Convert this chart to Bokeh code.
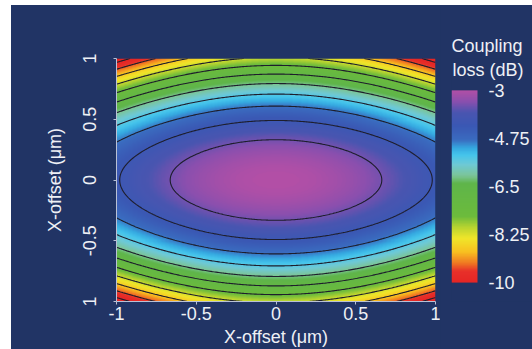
import numpy as np
from bokeh.plotting import figure
from bokeh.models import LinearColorMapper, FixedTicker, Range1d, Spacer, Title
from bokeh.core.properties import value
from bokeh.layouts import row, column
from bokeh.embed import file_html
from bokeh.resources import INLINE

NAVY = "#213465"
TEXT = "#eef0f5"
AXIS = "#b9c1d6"
FONT = "Liberation Sans"

# ---- data ----
x_ticks = [-1.0, -0.5, 0.0, 0.5, 1.0]
x_tick_labels = ["-1", "-0.5", "0", "0.5", "1"]
y_ticks = [-1.0, -0.5, 0.0, 0.5, 1.0]
y_tick_labels = ["1", "-0.5", "0", "0.5", "1"]
cbar_ticks = [-3.0, -4.75, -6.5, -8.25, -10.0]
cbar_tick_labels = ["-3", "-4.75", "-6.5", "-8.25", "-10"]
cbar_title = ["Coupling", "loss (dB)"]

# coupling loss (dB) read at centre, x edges (y=0), y edges (x=0) and corners
loss_center = -3.0
loss_x_edge = -4.25
loss_y_edge = -8.0
loss_corner = -10.45

contour_levels = [-10.05, -9.4, -8.75, -8.1, -7.45, -6.8, -6.15, -5.5, -4.85, -4.2, -3.55]

# colour scale anchors (dB -> colour)
cmap_values = [-10.0, -9.6, -9.3, -8.9, -8.4, -8.0, -7.6, -6.4, -6.1, -5.7, -5.35, -5.1, -4.8, -4.3, -3.8, -3.4, -3.0]
cmap_colors = ["#e52625", "#e8302a", "#f07a22", "#f8c020", "#f0e62a", "#b8d430", "#6cbb3c", "#5fb54a",
               "#7cc59a", "#6ec9d6", "#45c5ec", "#35a8e0", "#3a6cc0", "#3a58b4", "#4a55b0", "#8a4fae", "#b24fa6"]


def hex_to_rgb(h):
    h = h.lstrip("#")
    return [int(h[i:i + 2], 16) for i in (0, 2, 4)]


rgb = np.array([hex_to_rgb(c) for c in cmap_colors], dtype=float)
grid_vals = np.linspace(min(cmap_values), max(cmap_values), 256)
palette = []
for v in grid_vals:
    r = np.interp(v, cmap_values, rgb[:, 0])
    g = np.interp(v, cmap_values, rgb[:, 1])
    b = np.interp(v, cmap_values, rgb[:, 2])
    palette.append("#%02x%02x%02x" % (int(round(r)), int(round(g)), int(round(b))))

mapper = LinearColorMapper(palette=palette, low=-10, high=-3)

xs = np.linspace(-1, 1, 241)
ys = np.linspace(-1, 1, 241)
X, Y = np.meshgrid(xs, ys)
U, V = X ** 2, Y ** 2
Z = (loss_center + (loss_x_edge - loss_center) * U + (loss_y_edge - loss_center) * V
     + (loss_corner - loss_x_edge - loss_y_edge + loss_center) * U * V)

# ---------------- main heat map ----------------
BT, BB = 53, 47
p = figure(width=429, height=344, x_range=Range1d(-1, 1), y_range=Range1d(-1, 1),
           output_backend="svg", toolbar_location=None,
           background_fill_color=NAVY, border_fill_color=NAVY,
           min_border_left=105, min_border_top=BT, min_border_bottom=BB, min_border_right=5)
p.outline_line_color = None
p.grid.visible = False

p.image(image=[Z], x=-1, y=-1, dw=2, dh=2, color_mapper=mapper)
p.contour(xs, ys, Z, levels=sorted(contour_levels), line_color="#1e1e2c", line_width=1.1)

p.xaxis.ticker = FixedTicker(ticks=x_ticks)
p.yaxis.ticker = FixedTicker(ticks=y_ticks)
p.xaxis.major_label_overrides = dict(zip(x_ticks, x_tick_labels))
p.yaxis.major_label_overrides = dict(zip(y_ticks, y_tick_labels))
p.xaxis.axis_label = "X-offset (μm)"
p.yaxis.axis_label = "X-offset (μm)"
for ax in (p.xaxis[0], p.yaxis[0]):
    ax.axis_line_color = AXIS
    ax.major_tick_line_color = AXIS
    ax.major_tick_out = 3
    ax.major_tick_in = 0
    ax.minor_tick_line_color = None
    ax.major_label_text_font = FONT
    ax.major_label_text_font_size = "18px"
    ax.major_label_text_color = TEXT
    ax.axis_label_text_font = FONT
    ax.axis_label_text_font_size = "18px"
    ax.axis_label_text_font_style = "normal"
    ax.axis_label_text_color = TEXT
p.xaxis.major_label_standoff = 2
p.xaxis.axis_label_standoff = 4
p.yaxis.major_label_orientation = "vertical"
p.yaxis.major_label_standoff = 18
p.yaxis.axis_label_standoff = 15

# ---------------- colour bar (same vertical frame as the map) ----------------
FRAME_H = 344 - BT - BB                 # 244 px
BAR_TOP, BAR_BOT = 32, 19               # px between frame edge and bar
k = 7.0 / (FRAME_H - BAR_TOP - BAR_BOT)  # dB per pixel
BAR_W, FRAME_W = 26, 81
SUBTITLE_GAP = 20                       # px from bar top to "loss (dB)"
cbar_vals = np.linspace(-10, -3, 256).reshape(-1, 1)
c = figure(width=92, height=344, x_range=Range1d(0, FRAME_W / BAR_W),
           y_range=Range1d(-10 - BAR_BOT * k, -3 + BAR_TOP * k),
           output_backend="svg", toolbar_location=None,
           x_axis_location=None, y_axis_location=None,
           background_fill_color=NAVY, border_fill_color=NAVY,
           min_border_left=11, min_border_right=0, min_border_top=BT, min_border_bottom=BB)
c.outline_line_color = None
c.grid.visible = False
c.image(image=[cbar_vals], x=0, y=-10, dw=1, dh=7, color_mapper=mapper)
c.text(x=[1 + 11 / BAR_W] * len(cbar_ticks), y=cbar_ticks, text=cbar_tick_labels,
       text_font=value(FONT), text_font_size="18px", text_color=TEXT,
       text_baseline="middle", text_align="left")
c.text(x=[1 / BAR_W], y=[-3 + SUBTITLE_GAP * k], text=[cbar_title[1]],
       text_font=value(FONT), text_font_size="18px", text_color=TEXT,
       text_baseline="middle", text_align="left")
c.add_layout(Title(text=cbar_title[0], align="left", text_font=FONT, text_font_size="18px",
                   text_font_style="normal", text_color=TEXT, standoff=6,
                   background_fill_color=None), "above")

inner = row(p, c, styles={"background-color": NAVY})
layout = row(Spacer(width=11, height=349), column(Spacer(width=521, height=5), inner))
open("out.html", "w").write(file_html(layout, INLINE))
